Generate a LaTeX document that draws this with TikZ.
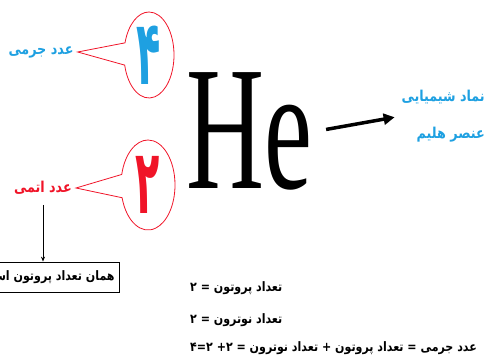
\documentclass[tikz,border=0pt]{standalone}
\usepackage{fontspec}
\usepackage{graphicx}
\usepackage{xcolor}
\usepackage{tikz}
\usetikzlibrary{positioning, arrows.meta, shapes.callouts, calc}
\TeXXeTstate=1
\newfontfamily\fa[Script=Arabic, FakeStretch=0.85]{DejaVu Sans}
\newfontfamily\heserif{Liberation Serif}
\definecolor{massblue}{RGB}{30,160,225}
\definecolor{atomred}{RGB}{240,20,40}

\begin{document}
\begin{tikzpicture}[x=1pt, y=-1pt,
  bubble/.style={ellipse callout, draw=atomred, line width=0.8pt, inner sep=0pt, callout pointer arc=30},
  digit/.style={inner sep=0pt, font=\fa\bfseries\fontsize{60}{60}\selectfont},
  falabel/.style={inner sep=0pt, font=\fa\bfseries\fontsize{#1}{#1}\selectfont},
  falabel/.default=13]
\useasboundingbox (0,0) rectangle (489,363);

% mass number callout
\node[falabel=15, text=massblue] (masslabel) at (41,52) {\beginR عدد جرمی\endR};
\node[bubble, minimum width=50pt, minimum height=86pt, callout absolute pointer={($(masslabel.east)+(4,0)$)}] (massbubble) at (149,55) {};
\node[digit, text=massblue] (massdigit) at (massbubble.center) {\scalebox{0.78}[1.5]{\beginR ۴\endR}};

% atomic number callout
\node[falabel=15, text=atomred] (atomlabel) at (43,188) {\beginR عدد اتمی\endR};
\node[bubble, minimum width=54pt, minimum height=90pt, callout absolute pointer={($(atomlabel.east)+(4,0)$)}] (atombubble) at (148,185) {};
\node[digit, text=atomred] (atomdigit) at (atombubble.center) {\scalebox{0.78}[1.5]{\beginR ۲\endR}};

\node[falabel, draw, line width=0.8pt, inner xsep=5pt, minimum height=30pt, anchor=east] (sameprotons) at (120,277) {\beginR همان تعداد پروتون است\endR};
\draw[-{Stealth[length=5pt,width=4pt]}, line width=0.8pt, shorten <=10pt] (atomlabel.south) -- (atomlabel.south |- sameprotons.north);

% element symbol
\node[anchor=base west, inner sep=0pt, font=\heserif\fontsize{177}{177}\selectfont] (he) at (186,189) {\scalebox{0.61}[1]{He}};
\node[falabel=15, text=massblue, align=right, anchor=east] (symbol) at (485,116) {\beginR نماد شیمیایی\endR\\[22pt]\beginR عنصر هلیم\endR};
\draw[-{Triangle[length=11pt,width=11pt]}, line width=3.5pt, shorten <=14pt, shorten >=7pt] (he.east) -- (symbol.west);

% counts
\node[falabel, anchor=west] (protons) at (190,288) {\beginR تعداد پروتون = ۲\endR};
\node[falabel, below=32pt of protons.west, anchor=west] (neutrons) {\beginR تعداد نوترون = ۲\endR};
\node[falabel, below=28pt of neutrons.west, anchor=west] (massnum) {\beginR عدد جرمی = تعداد پروتون + تعداد نوترون = ۲+ ۲=۴\endR};
\end{tikzpicture}
\end{document}
